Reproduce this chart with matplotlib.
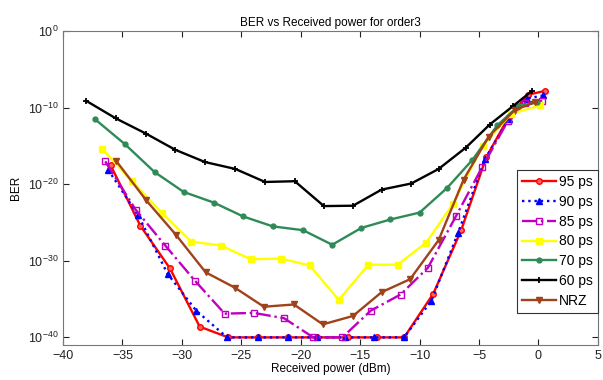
import numpy as np
import matplotlib
matplotlib.use("Agg")
import matplotlib.pyplot as plt
from matplotlib.ticker import FixedLocator, NullLocator

plt.rcParams["font.family"] = ["Liberation Sans", "DejaVu Sans"]
plt.rcParams["mathtext.default"] = "regular"

# received power (dBm) and log10(BER)
x95 = [-36.0, -33.5, -31.0, -28.5, -26.1, -23.6, -21.1, -18.6, -16.0, -13.6, -11.3, -8.85, -6.5, -4.4, -2.5, -0.86, 0.55]
y95 = [-17.5, -25.4, -31.0, -38.6, -40, -40, -40, -40, -40, -40, -40, -34.3, -26.0, -16.5, -11.2, -8.3, -7.8]

x90 = [-36.2, -33.7, -31.2, -28.8, -26.2, -23.6, -21.1, -18.6, -16.3, -13.8, -11.3, -9.0, -6.75, -4.5, -2.5, -0.94, 0.38]
y90 = [-18.1, -24.0, -31.7, -36.5, -40, -40, -40, -40, -40, -40, -40, -35.2, -26.3, -16.7, -11.5, -8.8, -8.4]

x85 = [-36.45, -33.9, -31.4, -28.9, -26.4, -23.95, -21.4, -18.95, -16.5, -14.1, -11.6, -9.3, -6.95, -4.75, -2.6, -1.1, 0.32]
y85 = [-17.0, -23.3, -28.0, -32.6, -36.9, -36.8, -37.5, -40, -40, -36.5, -34.4, -30.9, -24.2, -17.8, -11.8, -9.35, -9.1]

x80 = [-36.7, -34.2, -31.7, -29.2, -26.7, -24.2, -21.7, -19.25, -16.8, -14.3, -11.85, -9.46, -7.2, -4.7, -2.3, 0.15]
y80 = [-15.4, -19.6, -23.7, -27.5, -28.0, -29.8, -29.7, -30.6, -35.1, -30.5, -30.5, -27.65, -22.6, -15.0, -10.8, -9.7]

x70 = [-37.35, -34.8, -32.3, -29.85, -27.3, -24.85, -22.35, -19.8, -17.35, -14.9, -12.46, -10.0, -7.7, -5.55, -3.46, -1.7, -0.1]
y70 = [-11.45, -14.75, -18.4, -21.0, -22.4, -24.2, -25.5, -26.0, -27.9, -25.7, -24.6, -23.7, -20.5, -16.8, -12.3, -9.8, -9.3]

x60 = [-38.05, -35.55, -33.0, -30.55, -28.05, -25.5, -23.0, -20.5, -18.05, -15.6, -13.2, -10.7, -8.4, -6.1, -4.1, -2.15, -0.57]
y60 = [-9.1, -11.4, -13.4, -15.5, -17.1, -18.0, -19.7, -19.6, -22.85, -22.8, -20.7, -19.9, -18.0, -15.2, -12.2, -9.8, -7.84]

xnrz = [-35.55, -33.0, -30.5, -28.0, -25.55, -23.1, -20.57, -18.14, -15.6, -13.2, -10.8, -8.4, -6.3, -4.2, -2.0, -0.3]
ynrz = [-16.9, -22.1, -26.6, -31.5, -33.5, -36.0, -35.7, -38.3, -37.2, -34.1, -32.4, -27.3, -19.4, -13.8, -10.3, -9.3]

labels = ["95 ps", "90 ps", "85 ps", "80 ps", "70 ps", "60 ps", "NRZ"]
yticks = [-40, -30, -20, -10, 0]

series = [
    (x95, y95, dict(color="#ff0000", ls="-", marker="o", ms=4, mfc="#ff6060")),
    (x90, y90, dict(color="#0000ff", ls=":", marker="^", ms=4.5)),
    (x85, y85, dict(color="#c000c0", ls="-.", marker="s", ms=4, mfc="none")),
    (x80, y80, dict(color="#ffff00", ls="-", marker="s", ms=4.5)),
    (x70, y70, dict(color="#2e8b57", ls="-", marker="o", ms=3.5)),
    (x60, y60, dict(color="#000000", ls="-", marker="+", ms=5, mew=1.3)),
    (xnrz, ynrz, dict(color="#a0421a", ls="-", marker="v", ms=5)),
]

fig = plt.figure(figsize=(6.03, 3.80), dpi=100)
ax = fig.add_axes([0.1045, 0.092, 0.887, 0.826])

for (xs, ys, st), lab in zip(series, labels):
    ax.semilogy(xs, 10.0 ** np.array(ys), lw=1.7, label=lab, **st)

ax.set_xlim(-40, 5)
ax.set_ylim(1e-41, 1e0)
ax.set_xticks(range(-40, 6, 5))
ax.yaxis.set_major_locator(FixedLocator([10.0 ** k for k in yticks]))
ax.yaxis.set_minor_locator(NullLocator())
ax.tick_params(direction="in", labelsize=9, colors="#222222", length=4)
ax.tick_params(which="both", top=True, right=True)
for sp in ax.spines.values():
    sp.set_color("#777777")

ax.set_title("BER vs Received power for order3", fontsize=8.5, pad=4)
ax.set_xlabel("Received power (dBm)", fontsize=8.5, labelpad=1)
ax.set_ylabel("BER", fontsize=8.5, labelpad=4)

leg = ax.legend(loc="center right", bbox_to_anchor=(1.0, 0.33), fontsize=10,
                fancybox=False, framealpha=1, edgecolor="#333333",
                handlelength=2.5, handletextpad=0.2, labelspacing=0.42,
                borderpad=0.35, borderaxespad=0.0)
leg.get_frame().set_linewidth(0.8)

fig.savefig("out.png", dpi=100)
